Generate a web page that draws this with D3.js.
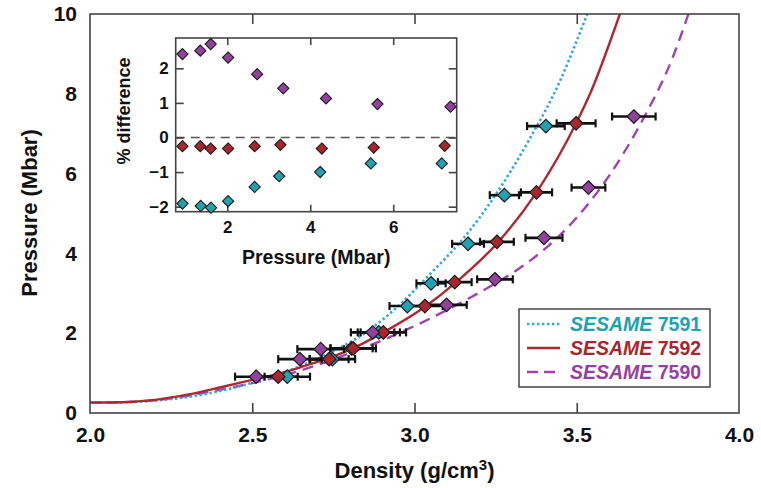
<!DOCTYPE html>
<html><head><meta charset="utf-8">
<script src="https://cdn.jsdelivr.net/npm/d3@7"></script>
<style>body{margin:0;background:#fff}</style>
</head><body>
<svg id="c" width="761" height="488" xmlns="http://www.w3.org/2000/svg"></svg>
<script>
// ---------- data ----------
const seriesNames = ["SESAME 7591", "SESAME 7592", "SESAME 7590"];
const xTicks = [2.0, 2.5, 3.0, 3.5, 4.0];
const yTicks = [0, 2, 4, 6, 8, 10];
const insetXTicks = [2, 4, 6];
const insetYTicks = [-2, -1, 0, 1, 2];

// model curves (density g/cm3, pressure Mbar)
const curve7591Rho = [2.0, 2.1, 2.2, 2.3, 2.4, 2.5, 2.65, 2.75, 2.85, 2.95, 3.05, 3.15, 3.25, 3.35, 3.45, 3.53, 3.58];
const curve7591P   = [0.27, 0.27, 0.31, 0.40, 0.55, 0.76, 1.18, 1.55, 2.02, 2.68, 3.50, 4.37, 5.47, 6.80, 8.35, 9.95, 11.0];
const curve7592Rho = [2.0, 2.1, 2.2, 2.3, 2.4, 2.5, 2.58, 2.65, 2.737, 2.81, 2.904, 3.03, 3.124, 3.254, 3.376, 3.498, 3.541, 3.633, 3.68];
const curve7592P   = [0.26, 0.27, 0.33, 0.46, 0.64, 0.83, 0.98, 1.15, 1.38, 1.62, 2.02, 2.65, 3.25, 4.25, 5.53, 7.26, 8.0, 10.0, 11.1];
const curve7590Rho = [2.0, 2.1, 2.2, 2.3, 2.4, 2.5, 2.6, 2.7, 2.8, 2.9, 3.0, 3.1, 3.2, 3.3, 3.4, 3.5, 3.6, 3.7, 3.8, 3.844, 3.88];
const curve7590P   = [0.26, 0.27, 0.32, 0.43, 0.58, 0.75, 0.95, 1.2, 1.5, 1.82, 2.18, 2.58, 3.02, 3.5, 4.1, 4.9, 5.95, 7.3, 9.0, 10.0, 10.9];

// experimental points: density, pressure, density error
const data7591Rho = [2.608, 2.747, 2.806, 2.89, 2.978, 3.051, 3.165, 3.277, 3.405];
const data7591P   = [0.91, 1.35, 1.62, 2.02, 2.68, 3.25, 4.24, 5.46, 7.19];
const data7591Err = [0.07, 0.07, 0.065, 0.065, 0.055, 0.045, 0.049, 0.045, 0.058];
const data7592Rho = [2.580, 2.737, 2.811, 2.904, 3.032, 3.124, 3.254, 3.376, 3.498];
const data7592P   = [0.91, 1.35, 1.62, 2.02, 2.68, 3.28, 4.29, 5.53, 7.26];
const data7592Err = [0.06, 0.06, 0.07, 0.07, 0.055, 0.052, 0.052, 0.048, 0.06];
const data7590Rho = [2.512, 2.647, 2.711, 2.871, 3.099, 3.248, 3.399, 3.536, 3.676];
const data7590P   = [0.91, 1.35, 1.60, 2.02, 2.71, 3.35, 4.39, 5.65, 7.43];
const data7590Err = [0.065, 0.067, 0.072, 0.067, 0.062, 0.055, 0.057, 0.052, 0.067];

// inset: % difference vs pressure
const diff7591P = [0.92, 1.36, 1.61, 2.02, 2.66, 3.25, 4.24, 5.46, 7.17];
const diff7591  = [-1.91, -1.98, -2.03, -1.84, -1.43, -1.12, -1.00, -0.75, -0.75];
const diff7592P = [0.92, 1.35, 1.60, 2.02, 2.66, 3.28, 4.28, 5.53, 7.24];
const diff7592  = [-0.25, -0.25, -0.32, -0.32, -0.25, -0.21, -0.32, -0.29, -0.24];
const diff7590P = [0.92, 1.35, 1.60, 2.02, 2.72, 3.35, 4.38, 5.62, 7.38];
const diff7590  = [2.41, 2.51, 2.70, 2.31, 1.83, 1.42, 1.13, 0.965, 0.89];

// ---------- styling ----------
const FONT = "'Liberation Sans', Arial, Helvetica, sans-serif";
const lineColor = ["#2ea6df", "#b0282f", "#a043ad"];
const markColor = ["#1fa3b3", "#a8262c", "#94409f"];
const textColor = ["#1aa2b0", "#a8262c", "#9440a2"];
const dash = ["2.4,2.6", null, "11,7"];

const svg = d3.select("#c");
svg.append("rect").attr("width", 761).attr("height", 488).attr("fill", "#fff");

const x = d3.scaleLinear().domain([2, 4]).range([90, 739]);
const y = d3.scaleLinear().domain([0, 10]).range([413, 14]);

svg.append("clipPath").attr("id", "clipMain").append("rect")
  .attr("x", 90).attr("y", 14).attr("width", 649).attr("height", 399);

const curves = [
  d3.zip(curve7591Rho, curve7591P),
  d3.zip(curve7592Rho, curve7592P),
  d3.zip(curve7590Rho, curve7590P)
];
const line = d3.line().x(d => x(d[0])).y(d => y(d[1])).curve(d3.curveMonotoneX);
const gc = svg.append("g").attr("clip-path", "url(#clipMain)");
[2, 0, 1].forEach(i => {
  gc.append("path").attr("d", line(curves[i])).attr("fill", "none")
    .attr("stroke", lineColor[i]).attr("stroke-width", i === 0 ? 2.6 : 2.4)
    .attr("stroke-dasharray", dash[i]);
});

// frame
svg.append("rect").attr("x", 90).attr("y", 14).attr("width", 649).attr("height", 399)
  .attr("fill", "none").attr("stroke", "#444").attr("stroke-width", 1.6);

// axes
const xAxisB = d3.axisBottom(x).tickValues(xTicks).tickSize(-10).tickPadding(14).tickFormat(d3.format(".1f"));
const gxb = svg.append("g").attr("transform", "translate(0,413)").call(xAxisB);
const xAxisT = d3.axisTop(x).tickValues(xTicks).tickSize(-10).tickFormat("");
const gxt = svg.append("g").attr("transform", "translate(0,14)").call(xAxisT);
const yAxisL = d3.axisLeft(y).tickValues(yTicks).tickSize(0).tickPadding(13).tickFormat(d3.format("d"));
const gyl = svg.append("g").attr("transform", "translate(90,0)").call(yAxisL);
[gxb, gxt, gyl].forEach(g => {
  g.select(".domain").remove();
  g.selectAll(".tick line").attr("stroke", "#444").attr("stroke-width", 1.6);
  g.selectAll("text").attr("font-family", FONT).attr("font-weight", "bold")
    .attr("font-size", 21).attr("fill", "#111");
});
gxb.selectAll(".tick").filter(d => d === 2 || d === 4).select("line").remove();
gxt.selectAll(".tick").filter(d => d === 2 || d === 4).select("line").remove();

// titles
svg.append("text").attr("x", 414.5).attr("y", 478).attr("text-anchor", "middle")
  .attr("font-family", FONT).attr("font-weight", "bold").attr("font-size", 22).attr("fill", "#111")
  .call(t => { t.append("tspan").text("Density (g/cm");
               t.append("tspan").attr("font-size", 15).attr("dy", -8).text("3");
               t.append("tspan").attr("dy", 8).text(")"); });
svg.append("text").attr("transform", "translate(37,213) rotate(-90)").attr("text-anchor", "middle")
  .attr("font-family", FONT).attr("font-weight", "bold").attr("font-size", 22).attr("fill", "#111")
  .text("Pressure (Mbar)");

// error bars then markers
const pts = [
  d3.zip(data7591Rho, data7591P, data7591Err),
  d3.zip(data7592Rho, data7592P, data7592Err),
  d3.zip(data7590Rho, data7590P, data7590Err)
];
const ge = svg.append("g");
pts.forEach(s => s.forEach(d => {
  const x0 = x(d[0] - d[2]), x1 = x(d[0] + d[2]), yy = y(d[1]);
  ge.append("line").attr("x1", x0).attr("x2", x1).attr("y1", yy).attr("y2", yy)
    .attr("stroke", "#111").attr("stroke-width", 2.6);
  [x0, x1].forEach(xx => ge.append("line").attr("x1", xx).attr("x2", xx)
    .attr("y1", yy - 4).attr("y2", yy + 4).attr("stroke", "#111").attr("stroke-width", 2.2));
}));
const diamond = r => `M0,${-r}L${r},0L0,${r}L${-r},0Z`;
pts.forEach((s, i) => s.forEach(d => {
  svg.append("path").attr("d", diamond(6.8))
    .attr("transform", `translate(${x(d[0])},${y(d[1])})`)
    .attr("fill", markColor[i]).attr("stroke", "#1a1a1a").attr("stroke-width", 1.2);
}));

// legend
const lg = svg.append("g");
lg.append("rect").attr("x", 519).attr("y", 309).attr("width", 191).attr("height", 78)
  .attr("fill", "#fff").attr("stroke", "#444").attr("stroke-width", 1.5);
seriesNames.forEach((name, i) => {
  const yy = 324 + i * 24;
  lg.append("line").attr("x1", 527).attr("x2", 560).attr("y1", yy).attr("y2", yy)
    .attr("stroke", lineColor[i]).attr("stroke-width", i === 0 ? 2.6 : 2.4)
    .attr("stroke-dasharray", i === 2 ? "11,6" : dash[i]);
  const parts = name.split(" ");
  const t = lg.append("text").attr("x", 570).attr("y", yy + 7)
    .attr("font-family", FONT).attr("font-weight", "bold").attr("font-size", 19.5)
    .attr("fill", textColor[i]);
  t.append("tspan").attr("font-style", "italic").text(parts[0]);
  t.append("tspan").text(" " + parts[1]);
});

// ---------- inset ----------
const ix = d3.scaleLinear().domain([0.757, 7.53]).range([175.7, 456.7]);
const iy = d3.scaleLinear().domain([-2.145, 2.876]).range([211.7, 38]);
svg.append("rect").attr("x", 175.7).attr("y", 38).attr("width", 281).attr("height", 173.7)
  .attr("fill", "#fff");
svg.append("line").attr("x1", 175.7).attr("x2", 456.7).attr("y1", iy(0)).attr("y2", iy(0))
  .attr("stroke", "#555").attr("stroke-width", 1.6).attr("stroke-dasharray", "9,6");
const ia = [
  svg.append("g").attr("transform", "translate(0,211.7)").call(d3.axisBottom(ix).tickValues(insetXTicks).tickSize(-7).tickPadding(9).tickFormat(d3.format("d"))),
  svg.append("g").attr("transform", "translate(0,38)").call(d3.axisTop(ix).tickValues(insetXTicks).tickSize(-7).tickFormat("")),
  svg.append("g").attr("transform", "translate(175.7,0)").call(d3.axisLeft(iy).tickValues(insetYTicks).tickSize(-8).tickPadding(7).tickFormat(d => d < 0 ? "\u2212" + Math.abs(d) : String(d))),
  svg.append("g").attr("transform", "translate(456.7,0)").call(d3.axisRight(iy).tickValues(insetYTicks).tickSize(-8).tickFormat(""))
];
ia.forEach(g => {
  g.select(".domain").remove();
  g.selectAll(".tick line").attr("stroke", "#444").attr("stroke-width", 1.6);
  g.selectAll("text").attr("font-family", FONT).attr("font-weight", "bold")
    .attr("font-size", 17).attr("fill", "#111");
});
svg.append("rect").attr("x", 175.7).attr("y", 38).attr("width", 281).attr("height", 173.7)
  .attr("fill", "none").attr("stroke", "#444").attr("stroke-width", 1.6);
svg.append("text").attr("x", 316.2).attr("y", 264).attr("text-anchor", "middle")
  .attr("font-family", FONT).attr("font-weight", "bold").attr("font-size", 19.5).attr("fill", "#111")
  .text("Pressure (Mbar)");
svg.append("text").attr("transform", "translate(130,111) rotate(-90)").attr("text-anchor", "middle")
  .attr("font-family", FONT).attr("font-weight", "bold").attr("font-size", 18).attr("fill", "#111")
  .text("% difference");
const ipts = [d3.zip(diff7591P, diff7591), d3.zip(diff7592P, diff7592), d3.zip(diff7590P, diff7590)];
ipts.forEach((s, i) => s.forEach(d => {
  svg.append("path").attr("d", diamond(5.6))
    .attr("transform", `translate(${ix(d[0])},${iy(d[1])})`)
    .attr("fill", markColor[i]).attr("stroke", "#1a1a1a").attr("stroke-width", 1.1);
}));
</script>
</body></html>
